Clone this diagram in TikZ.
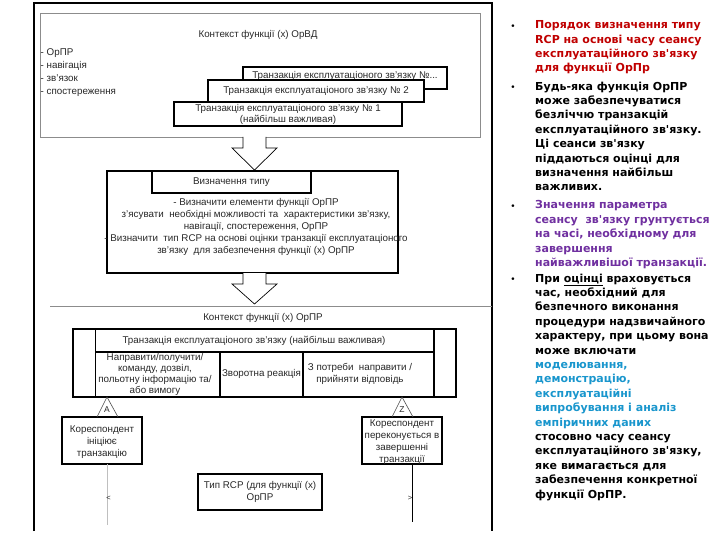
\documentclass[tikz,border=0pt]{standalone}
\usepackage{fontspec}
\setmainfont{Liberation Sans}
\newfontfamily\panelfont{DejaVu Sans}
\usetikzlibrary{calc}
\definecolor{tred}{RGB}{192,0,0}
\definecolor{tpurple}{RGB}{112,48,160}
\definecolor{tcyan}{RGB}{25,150,205}
\definecolor{txt}{RGB}{40,40,40}
\tikzset{
  dtext/.style={font=\fontsize{9.8}{12}\selectfont, text=txt, inner sep=0pt, align=center},
  thickbox/.style={draw=black, line width=2pt, fill=white, inner sep=0pt},
  ctxbox/.style={draw=black!45, line width=0.8pt, inner sep=0pt},
  blockarrow/.style={draw=black, line width=0.7pt, fill=white},
  thinline/.style={draw=black!70, line width=0.6pt},
  panel/.style={font=\panelfont\bfseries\fontsize{11}{14.4}\selectfont, align=left, inner sep=0pt, anchor=north west},
  bullet/.style={font=\panelfont\fontsize{9}{10}\selectfont, inner sep=0pt}
}
\begin{document}
\begin{tikzpicture}[x=1pt,y=-1pt]
\useasboundingbox (0,0) rectangle (720,540);
\fill[white] (0,0) rectangle (720,540);

% outer frame
\coordinate (fbl) at (34,531);
\coordinate (ftl) at (34,3);
\coordinate (ftr) at (492,3);
\coordinate (fbr) at (492,531);
\draw[line width=1.1pt] (fbl) -- (ftl) -- (ftr) -- (fbr);

% upper context
\node[ctxbox, minimum width=440pt, minimum height=124pt] (ctx1) at (260,75) {};
\node[dtext] (ctx1t) at (258,35) {Контекст функції (х) ОрВД};
\node[dtext, anchor=west, align=left, font=\fontsize{9.8}{13.2}\selectfont] (list) at (40.5,72.5)
  {- ОрПР\\- навігація\\- зв'язок\\- спостереження};

\node[thickbox, minimum width=204pt, minimum height=22pt] (tr3) at (345,78) {};
\node[dtext] (tr3t) at (345,75.5) {Транзакція експлуатаціоного зв'язку №...};
\node[thickbox, minimum width=216pt, minimum height=22pt] (tr2) at (316,91) {};
\node[dtext] (tr2t) at (316,91) {Транзакція експлуатаціоного зв'язку № 2};
\node[thickbox, minimum width=228pt, minimum height=24pt, dtext, font=\fontsize{9.8}{11}\selectfont] (tr1) at (288,114)
  {Транзакція експлуатаціоного зв'язку № 1\\(найбільш важливая)};

% block arrow 1
\draw[blockarrow] (243,137) -- (243,148) -- (232,148) -- (254.5,170) -- (277,148) -- (266,148) -- (266,137);

% determination box
\node[thickbox, minimum width=291pt, minimum height=102pt] (det) at (252.5,222) {};
\node[thickbox, minimum width=159pt, minimum height=22pt] (deth) at (231.5,182) {};
\node[dtext] (detht) at (deth) {Визначення  типу};
\node[dtext] (detb) at (256,227) {- Визначити елементи функції ОрПР\\
з'ясувати \ необхідні можливості та \ характеристики зв'язку,\\
навігації, спостереження, ОрПР\\
- Визначити \ тип RCP на основі оцінки транзакції експлуатаціоного\\
зв'язку \ для забезпечення функції (х) ОрПР};

% block arrow 2
\draw[blockarrow] (243,273) -- (243,284) -- (232,284) -- (254.5,304) -- (277,284) -- (266,284) -- (266,273);

% lower context
\coordinate (c2l) at (50,306);
\coordinate (c2r) at (492,306);
\draw[black!45, line width=0.8pt] (c2l) -- (c2r);
\node[dtext] (ctx2t) at (263,318) {Контекст функції (х) ОрПР};

% table
\node[thickbox, minimum width=383pt, minimum height=68pt] (tab) at (264.5,363) {};
\coordinate (v1t) at (95.5,329); \coordinate (v1b) at (95.5,397);
\coordinate (v2t) at (434,329); \coordinate (v2b) at (434,397);
\coordinate (hl) at (95.5,352); \coordinate (hr) at (434,352);
\coordinate (c1t) at (220,352); \coordinate (c1b) at (220,397);
\coordinate (c2t) at (303,352); \coordinate (c2b) at (303,397);
\draw[line width=1.6pt] (v1t) -- (v1b) (v2t) -- (v2b) (hl) -- (hr) (c1t) -- (c1b) (c2t) -- (c2b);
\node[dtext] (tabh) at (254,340.5) {Транзакція експлуатаціоного зв'язку (найбільш важливая)};
\node[dtext, font=\fontsize{9.8}{11.3}\selectfont] (cell1) at (155,374.5) {Направити/получити/\\команду, дозвіл,\\польотну інформацію та/\\або вимогу};
\node[dtext] (cell2) at (261.5,374) {Зворотна реакція};
\node[dtext] (cell3) at (360,374) {З потреби \ направити /\\прийняти відповідь};

% correspondents
\node[thickbox, minimum width=80pt, minimum height=47pt] (corA) at (102,440.5) {};
\node[dtext] (corAt) at (102,442) {Кореспондент\\ініціює\\транзакцію};
\node[thickbox, minimum width=80pt, minimum height=47pt] (corZ) at (402,440.5) {};
\node[dtext] (corZt) at (402,442) {Кореспондент\\переконується в\\завершенні\\транзакції};

% triangles A and Z
\coordinate (tA) at (107,397);
\coordinate (tZ) at (402,397);
\draw[thinline] (97,417) -- (tA) -- (118,417);
\draw[thinline] (392,417) -- (tZ) -- (413,417);
\node[dtext, font=\fontsize{8.5}{9}\selectfont] (lA) at (107,410) {A};
\node[dtext, font=\fontsize{8.5}{9}\selectfont] (lZ) at (402,410) {Z};

% lifelines
\coordinate (lAb) at (107,525);
\coordinate (lZb) at (412,522);
\draw[black!25, line width=0.8pt] (107,464) -- (lAb);
\draw[black, line width=0.8pt] (412,464) -- (lZb);
\node[dtext, font=\fontsize{7.5}{8}\selectfont] (mA) at (108.5,498) {<};
\node[dtext, font=\fontsize{7.5}{8}\selectfont] (mZ) at (410,498) {>};

% RCP type box
\node[draw=black, line width=1.3pt, minimum width=124pt, minimum height=36pt, dtext] (rcp) at (260,492)
  {Тип RCP (для функції (х)\\ОрПР};

% right panel
\node[bullet] (b1) at (513,27) {•};
\node[panel, text=tred] (p1) at (535,20.5) {Порядок визначення типу\\RCP на основі часу сеансу\\експлуатаційного зв'язку\\для функції ОрПр};
\node[bullet] (b2) at (513,88) {•};
\node[panel] (p2) at (535,81.5) {Будь-яка функція ОрПР\\може забезпечуватися\\безліччю транзакцій\\експлуатаційного зв'язку.\\Ці сеанси зв'язку\\піддаються оцінці для\\визначення найбільш\\важливих.};
\node[bullet] (b3) at (513,207) {•};
\node[panel, text=tpurple] (p3) at (535,200.5) {Значення параметра\\сеансу \ зв'язку грунтується\\на часі, необхідному для\\завершення\\найважливішої транзакції.};
\node[bullet] (b4) at (513,280) {•};
\node[panel] (p4) at (535,273.5) {При \underline{оцінці} враховується\\час, необхідний для\\безпечного виконання\\процедури надзвичайного\\характеру, при цьому вона\\може включати\\
\textcolor{tcyan}{моделювання,}\\\textcolor{tcyan}{демонстрацію,}\\\textcolor{tcyan}{експлуатаційні}\\\textcolor{tcyan}{випробування і аналіз}\\\textcolor{tcyan}{емпіричних даних}\\
стосовно часу сеансу\\експлуатаційного зв'язку,\\яке вимагається для\\забезпечення конкретної\\функції ОрПР.};
\end{tikzpicture}
\end{document}
